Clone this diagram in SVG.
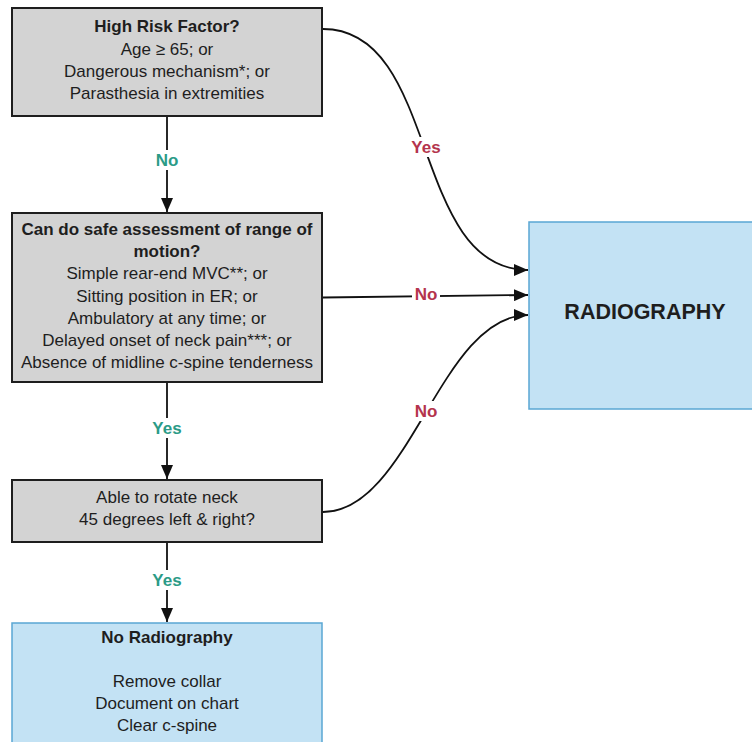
<svg xmlns="http://www.w3.org/2000/svg" width="752" height="742" viewBox="0 0 752 742">
<style>
.dec{fill:#d3d3d3;stroke:#1e1e1e;stroke-width:2}
.out{fill:#c3e2f4;stroke:#5aa7d3;stroke-width:1.5}
text{font-family:"Liberation Sans",Arial,sans-serif;fill:#1e1e1e;text-anchor:middle}
.t{font-size:17px}
.b{font-size:17px;font-weight:bold}
.big{font-size:21.5px;font-weight:bold}
.lg{font-size:17px;font-weight:bold;fill:#2b9b87}
.lr{font-size:17px;font-weight:bold;fill:#b4344d}
.c{fill:none;stroke:#111;stroke-width:1.8}
.bg{fill:#fff}
</style>
<defs>
<marker id="ah" viewBox="0 0 14 12" refX="14" refY="6" markerWidth="14" markerHeight="12" markerUnits="userSpaceOnUse" orient="auto">
<path d="M0,0 L14,6 L0,12 Z" fill="#111"/>
</marker>
</defs>
<rect width="752" height="742" fill="#fff"/>
<g id="connectors">
<path class="c" d="M167,117 V212" marker-end="url(#ah)"/>
<path class="c" d="M167,383 V479" marker-end="url(#ah)"/>
<path class="c" d="M167,543 V622" marker-end="url(#ah)"/>
<path class="c" d="M323,29 C440,29 410,270 528,270" marker-end="url(#ah)"/>
<path class="c" d="M323,297.5 L528,295" marker-end="url(#ah)"/>
<path class="c" d="M323,512 C410,512 440,315 528,315" marker-end="url(#ah)"/>
<rect class="bg" x="150" y="150" width="34" height="20"/>
<text class="lg" x="167" y="166">No</text>
<rect class="bg" x="148" y="418" width="38" height="20"/>
<text class="lg" x="167" y="434">Yes</text>
<rect class="bg" x="148" y="570" width="38" height="20"/>
<text class="lg" x="167" y="586">Yes</text>
<rect class="bg" x="408" y="137" width="38" height="20"/>
<text class="lr" x="426" y="153">Yes</text>
<rect class="bg" x="412" y="284" width="28" height="20"/>
<text class="lr" x="426" y="300">No</text>
<rect class="bg" x="412" y="401" width="28" height="20"/>
<text class="lr" x="426" y="417">No</text>
</g>
<g id="n1">
<rect class="dec" x="12" y="8" width="310" height="108"/>
<text class="b" x="167" y="32">High Risk Factor?</text>
<text class="t" x="167" y="55">Age ≥ 65; or</text>
<text class="t" x="167" y="77">Dangerous mechanism*; or</text>
<text class="t" x="167" y="99">Parasthesia in extremities</text>
</g>
<g id="n2">
<rect class="dec" x="12" y="213" width="310" height="169"/>
<text class="b" x="167" y="235">Can do safe assessment of range of</text>
<text class="b" x="167" y="257">motion?</text>
<text class="t" x="167" y="279">Simple rear-end MVC**; or</text>
<text class="t" x="167" y="302">Sitting position in ER; or</text>
<text class="t" x="167" y="324">Ambulatory at any time; or</text>
<text class="t" x="167" y="346">Delayed onset of neck pain***; or</text>
<text class="t" x="167" y="368">Absence of midline c-spine tenderness</text>
</g>
<g id="n3">
<rect class="dec" x="12" y="480" width="310" height="62"/>
<text class="t" x="167" y="503">Able to rotate neck</text>
<text class="t" x="167" y="525">45 degrees left &amp; right?</text>
</g>
<g id="n4">
<rect class="out" x="12" y="623" width="310" height="130"/>
<text class="b" x="167" y="643">No Radiography</text>
<text class="t" x="167" y="687">Remove collar</text>
<text class="t" x="167" y="709">Document on chart</text>
<text class="t" x="167" y="731">Clear c-spine</text>
</g>
<g id="n5">
<rect class="out" x="529" y="222" width="240" height="187"/>
<text class="big" x="645" y="319">RADIOGRAPHY</text>
</g>
</svg>
